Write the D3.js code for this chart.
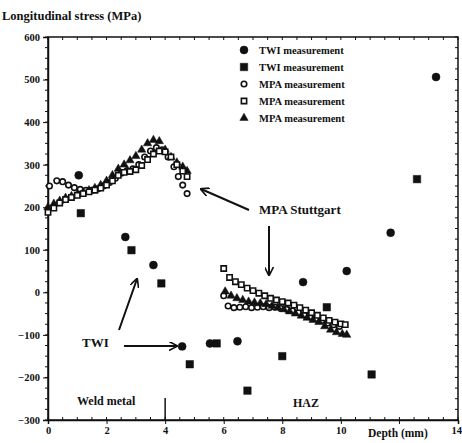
<!DOCTYPE html>
<html>
<head>
<meta charset="utf-8">
<title>Longitudinal stress vs depth</title>
<style>
  body { margin: 0; background: #fff; }
  text { font-family: "Liberation Serif", "DejaVu Serif", serif; font-weight: bold; fill: #111; }
  .axis path, .axis line { stroke: #111; }
  .axis text { font-size: 10.5px; }
</style>
</head>
<body>
<div id="chart"></div>
<script src="https://cdnjs.cloudflare.com/ajax/libs/d3/7.8.5/d3.min.js"></script>
<script>
// TWI measurements (scattered)
var twiCircles = [[1.05, 275], [2.64, 130], [3.6, 64], [4.58, -127], [5.53, -120], [6.47, -115],
                  [8.71, 24], [10.2, 50], [11.7, 140], [13.25, 506]];
var twiSquares = [[1.12, 186], [2.85, 99], [3.87, 21], [4.84, -169], [5.76, -120], [6.81, -231],
                  [8.0, -150], [9.52, -35], [11.05, -193], [12.6, 266]];

// MPA measurements - weld metal region
var mpaCirclesWeld = [[0.05, 250], [0.3, 262], [0.5, 260], [0.7, 252], [0.9, 246], [1.1, 242], [1.3, 240],
                      [1.5, 240], [1.7, 243], [1.9, 250], [2.1, 258], [2.3, 268], [2.5, 280], [2.7, 286],
                      [2.9, 290], [3.1, 300], [3.3, 318], [3.5, 332], [3.7, 340], [3.9, 335], [4.1, 318],
                      [4.3, 295], [4.45, 272], [4.6, 252], [4.75, 232]];
var mpaSquaresWeld = [[0.0, 188], [0.2, 198], [0.4, 210], [0.6, 218], [0.8, 223], [1.0, 228], [1.2, 232],
                      [1.4, 236], [1.6, 240], [1.8, 245], [2.0, 252], [2.2, 262], [2.4, 275], [2.6, 282],
                      [2.8, 284], [3.0, 288], [3.2, 298], [3.4, 312], [3.6, 325], [3.8, 332], [4.0, 330],
                      [4.2, 318], [4.4, 300], [4.6, 285], [4.75, 272]];
var mpaTrianglesWeld = [[0.0, 200], [0.2, 208], [0.4, 215], [0.6, 222], [0.8, 226], [1.0, 230], [1.2, 235],
                        [1.4, 240], [1.6, 245], [1.8, 252], [2.0, 262], [2.2, 275], [2.4, 290], [2.6, 300],
                        [2.8, 310], [3.0, 320], [3.2, 335], [3.4, 350], [3.6, 358], [3.8, 355], [4.0, 335],
                        [4.2, 318], [4.4, 305], [4.6, 295], [4.75, 285]];

// MPA measurements - HAZ region
var mpaSquaresHaz = [[6.0, 56], [6.2, 35], [6.4, 25], [6.6, 18], [6.8, 10], [7.0, 4], [7.2, -2], [7.4, -8],
                     [7.6, -14], [7.8, -18], [8.0, -22], [8.2, -25], [8.4, -30], [8.6, -36], [8.8, -42],
                     [9.0, -48], [9.2, -54], [9.4, -60], [9.6, -66], [9.8, -70], [10.0, -74], [10.15, -76]];
var mpaCirclesHaz = [[6.0, -8], [6.15, -32], [6.35, -36], [6.55, -35], [6.75, -34], [6.95, -36], [7.15, -35],
                     [7.35, -34], [7.55, -36], [7.75, -35], [7.95, -38], [8.15, -40], [8.35, -44], [8.55, -48],
                     [8.75, -53], [8.95, -58], [9.15, -62], [9.35, -66], [9.55, -72], [9.75, -76], [9.95, -80]];
var mpaTrianglesHaz = [[6.05, 2], [6.25, -8], [6.45, -14], [6.65, -18], [6.85, -22], [7.05, -24], [7.25, -26],
                       [7.45, -28], [7.65, -32], [7.85, -36], [8.05, -40], [8.25, -45], [8.45, -50], [8.65, -55],
                       [8.85, -60], [9.05, -65], [9.25, -70], [9.45, -80], [9.65, -88], [9.85, -94],
                       [10.05, -98], [10.2, -100]];

var xTicks = [0, 2, 4, 6, 8, 10, 14];
var yTicks = [-300, -200, -100, 0, 100, 200, 300, 400, 500, 600];
var legendLabels = ["TWI measurement", "TWI measurement", "MPA measurement", "MPA measurement", "MPA measurement"];

var width = 462, height = 443;
var svg = d3.select("#chart").append("svg").attr("width", width).attr("height", height);

var x = d3.scaleLinear().domain([0, 14]).range([48, 458]);
var y = d3.scaleLinear().domain([-300, 600]).range([420, 37]);

// frame
svg.append("rect").attr("x", x(0)).attr("y", y(600))
   .attr("width", x(14) - x(0)).attr("height", y(-300) - y(600))
   .attr("fill", "none").attr("stroke", "#111").attr("stroke-width", 1.5);

// minor ticks
var xMinor = d3.range(0, 14.01, 0.5), yMinor = d3.range(-300, 601, 25);
svg.append("g").selectAll("line").data(xMinor).enter().append("line")
   .attr("x1", d => x(d)).attr("x2", d => x(d))
   .attr("y1", y(-300)).attr("y2", y(-300) - 3).attr("stroke", "#111");
svg.append("g").selectAll("line").data(xMinor).enter().append("line")
   .attr("x1", d => x(d)).attr("x2", d => x(d))
   .attr("y1", y(600)).attr("y2", y(600) + 3).attr("stroke", "#111");
svg.append("g").selectAll("line").data(yMinor).enter().append("line")
   .attr("x1", x(0)).attr("x2", x(0) - 3)
   .attr("y1", d => y(d)).attr("y2", d => y(d)).attr("stroke", "#111");
svg.append("g").selectAll("line").data(yMinor).enter().append("line")
   .attr("x1", x(14)).attr("x2", x(14) - 3)
   .attr("y1", d => y(d)).attr("y2", d => y(d)).attr("stroke", "#111");

// axes
svg.append("g").attr("class", "axis")
   .attr("transform", "translate(0," + y(-300) + ")")
   .call(d3.axisBottom(x).tickValues(xTicks).tickSize(4).tickPadding(3))
   .call(g => g.select(".domain").attr("stroke-width", 1.5))
   .call(g => g.selectAll(".tick").filter(d => d === 14).select("text")
               .attr("text-anchor", "end").attr("x", 3.5).attr("font-size", 10));
svg.append("g").attr("class", "axis")
   .attr("transform", "translate(" + x(0) + ",0)")
   .call(d3.axisLeft(y).tickValues(yTicks).tickSize(5).tickPadding(3))
   .call(g => g.select(".domain").attr("stroke-width", 1.5));

// tick at 12 without label
svg.append("line").attr("x1", x(12)).attr("x2", x(12))
   .attr("y1", y(-300)).attr("y2", y(-300) + 4).attr("stroke", "#111");

// axis titles
svg.append("text").attr("x", 2).attr("y", 20).attr("font-size", 12.5).text("Longitudinal stress (MPa)");
svg.append("text").attr("x", 368).attr("y", 437).attr("font-size", 11.5).text("Depth (mm)");

// symbols
var sym = {
  circle: d3.symbol().type(d3.symbolCircle).size(50),
  square: d3.symbol().type(d3.symbolSquare).size(56),
  ocircle: d3.symbol().type(d3.symbolCircle).size(24),
  osquare: d3.symbol().type(d3.symbolSquare).size(28),
  triangle: d3.symbol().type(d3.symbolTriangle).size(30)
};

function drawSeries(data, kind) {
  var open = kind === "ocircle" || kind === "osquare";
  svg.append("g").selectAll("path").data(data).enter().append("path")
     .attr("d", sym[kind])
     .attr("transform", d => "translate(" + x(d[0]) + "," + y(d[1]) + ")")
     .attr("fill", open ? "#fff" : "#111")
     .attr("stroke", "#111")
     .attr("stroke-width", open ? 1.6 : 0.5);
}

drawSeries(mpaCirclesWeld, "ocircle");
drawSeries(mpaCirclesHaz, "ocircle");
drawSeries(mpaTrianglesWeld, "triangle");
drawSeries(mpaTrianglesHaz, "triangle");
drawSeries(mpaSquaresWeld, "osquare");
drawSeries(mpaSquaresHaz, "osquare");
drawSeries(twiCircles, "circle");
drawSeries(twiSquares, "square");

// legend
var legendKinds = ["circle", "square", "ocircle", "osquare", "triangle"];
var legend = svg.append("g").selectAll("g").data(legendLabels).enter().append("g")
   .attr("transform", (d, i) => "translate(244," + (50 + i * 17) + ")");
legend.append("path")
   .attr("d", (d, i) => sym[legendKinds[i]]())
   .attr("fill", (d, i) => (i === 2 || i === 3) ? "#fff" : "#111")
   .attr("stroke", "#111").attr("stroke-width", (d, i) => (i === 2 || i === 3) ? 1.6 : 0.5);
legend.append("text").attr("x", 15).attr("y", 3.5).attr("font-size", 10.5).text(d => d);

// annotations
var defs = svg.append("defs");
defs.append("marker").attr("id", "arr").attr("viewBox", "0 0 10 10")
    .attr("refX", 9).attr("refY", 5).attr("markerWidth", 9).attr("markerHeight", 9)
    .attr("markerUnits", "userSpaceOnUse").attr("orient", "auto")
    .append("path").attr("d", "M0,0 L10,5 L0,10").attr("fill", "none")
    .attr("stroke", "#111").attr("stroke-width", 1.8);

function arrow(x1, y1, x2, y2) {
  svg.append("line").attr("x1", x1).attr("y1", y1).attr("x2", x2).attr("y2", y2)
     .attr("stroke", "#111").attr("stroke-width", 2).attr("marker-end", "url(#arr)");
}

svg.append("text").attr("x", 259).attr("y", 214).attr("font-size", 13).text("MPA Stuttgart");
arrow(249, 210, 201, 189);
arrow(269, 226, 269, 275);

svg.append("text").attr("x", 82).attr("y", 347).attr("font-size", 13).text("TWI");
arrow(119, 330, 137, 279);
arrow(124, 346, 177, 346);

svg.append("text").attr("x", 77).attr("y", 405).attr("font-size", 12).text("Weld metal");
svg.append("line").attr("x1", x(4)).attr("x2", x(4)).attr("y1", 398).attr("y2", y(-300))
   .attr("stroke", "#111").attr("stroke-width", 1.5);
svg.append("text").attr("x", 293).attr("y", 407).attr("font-size", 12).text("HAZ");
</script>
</body>
</html>
